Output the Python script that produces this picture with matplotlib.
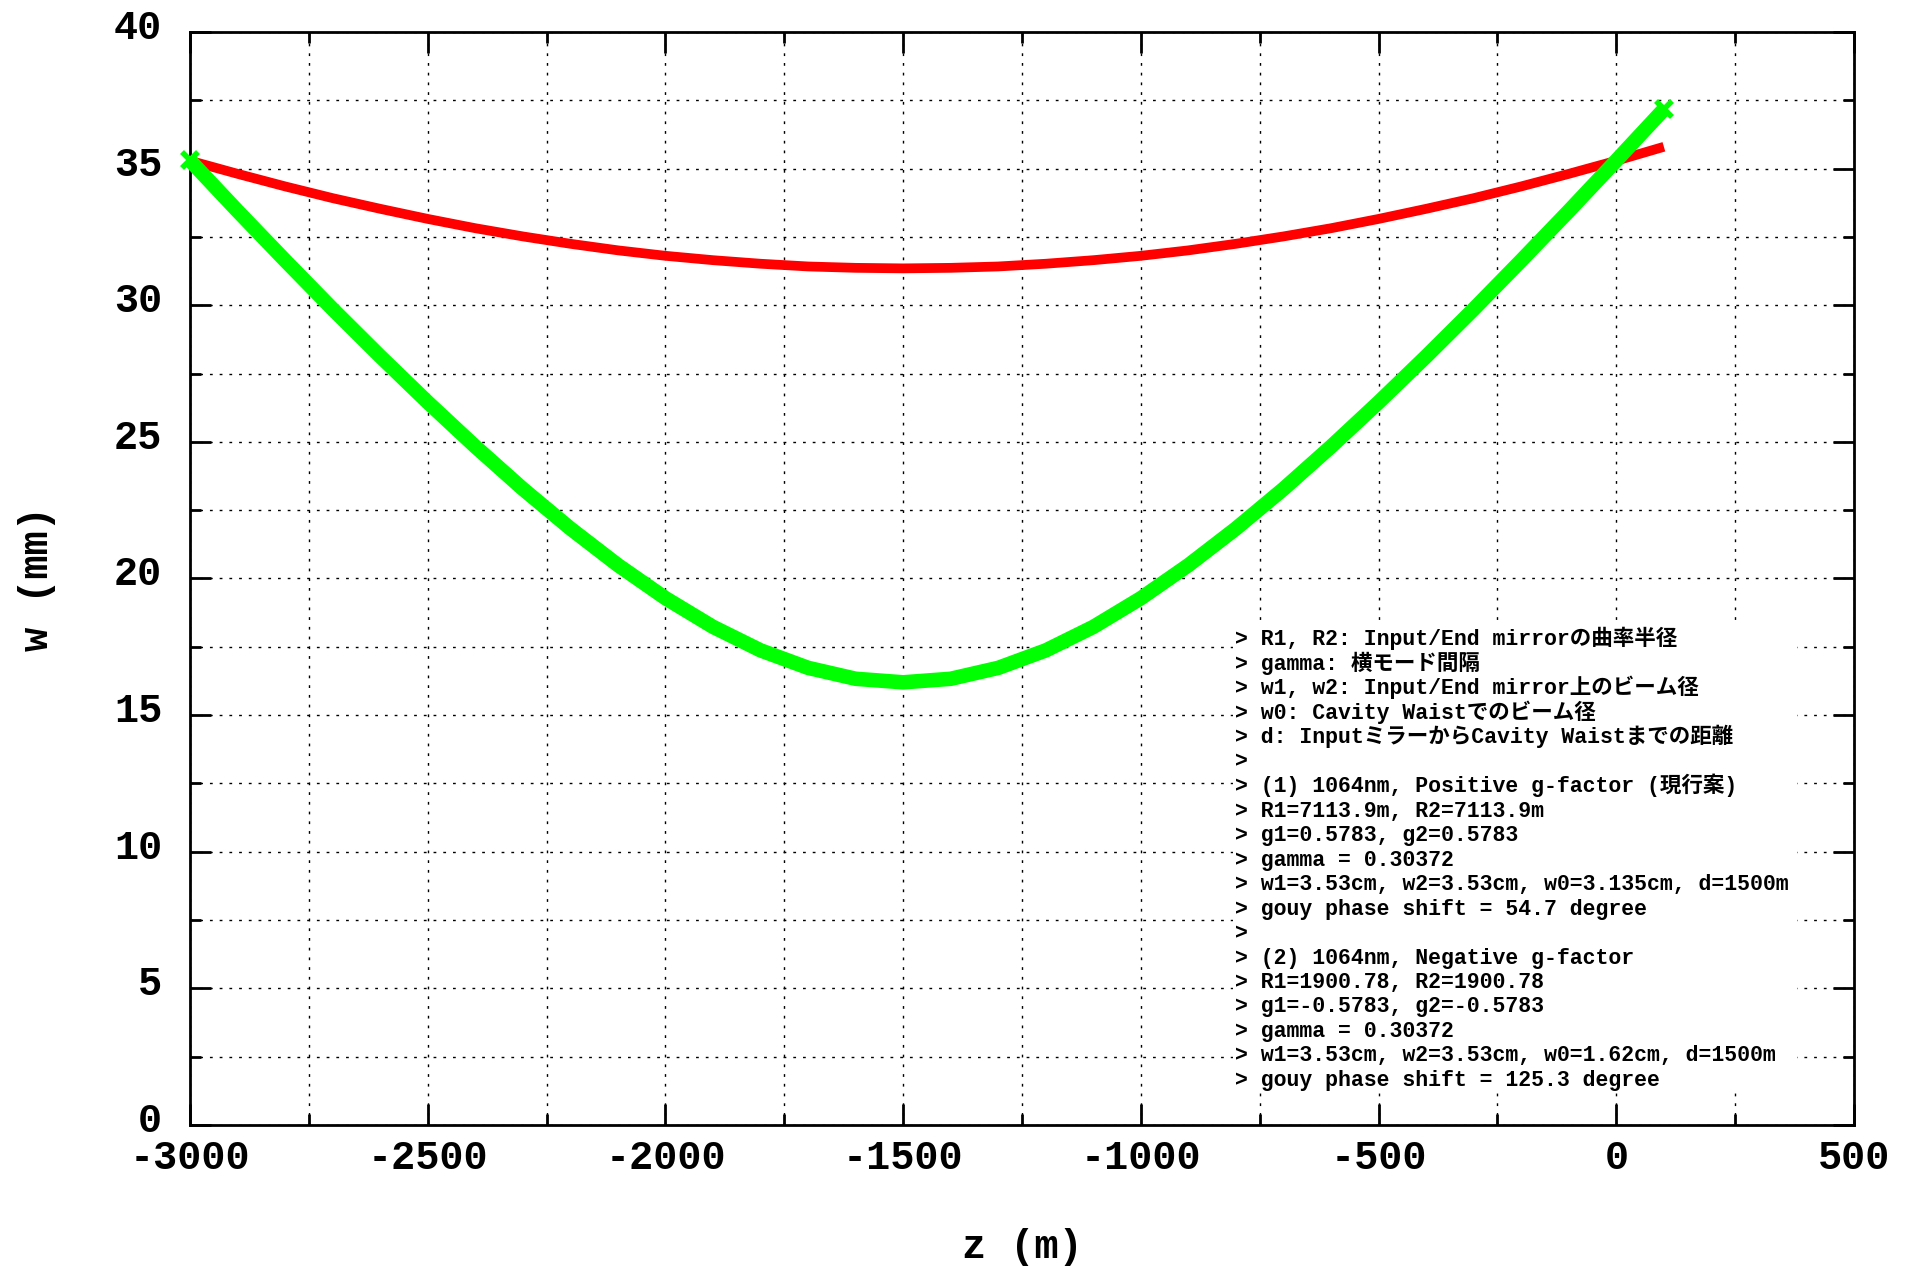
import matplotlib
matplotlib.use("Agg")
import matplotlib.pyplot as plt
import matplotlib.transforms as mtransforms
from matplotlib.patches import Rectangle
from matplotlib.ticker import MultipleLocator

plt.rcParams['font.family'] = ['Liberation Mono', 'Noto Sans CJK JP', 'DejaVu Sans']
plt.rcParams['font.weight'] = 'bold'
plt.rcParams['axes.unicode_minus'] = False

# beam radius w (mm), z every 100 m
z = [-3000, -2900, -2800, -2700, -2600, -2500, -2400, -2300, -2200, -2100,
     -2000, -1900, -1800, -1700, -1600, -1500, -1400, -1300, -1200, -1100,
     -1000, -900, -800, -700, -600, -500, -400, -300, -200, -100, 0, 100]
w_pos = [35.29, 34.81, 34.35, 33.92, 33.53, 33.16, 32.82, 32.52, 32.25, 32.01,
         31.81, 31.65, 31.52, 31.42, 31.37, 31.35, 31.37, 31.42, 31.52, 31.65,
         31.81, 32.01, 32.25, 32.52, 32.82, 33.16, 33.53, 33.92, 34.35, 34.81,
         35.29, 35.80]
w_neg = [35.30, 33.45, 31.64, 29.86, 28.13, 26.45, 24.83, 23.28, 21.83, 20.49,
         19.28, 18.23, 17.37, 16.73, 16.33, 16.20, 16.33, 16.73, 17.37, 18.23,
         19.28, 20.49, 21.83, 23.28, 24.83, 26.45, 28.13, 29.86, 31.64, 33.45,
         35.30, 37.17]

notes = [
    "> R1, R2: Input/End mirrorの曲率半径",
    "> gamma: 横モード間隔",
    "> w1, w2: Input/End mirror上のビーム径",
    "> w0: Cavity Waistでのビーム径",
    "> d: InputミラーからCavity Waistまでの距離",
    ">",
    "> (1) 1064nm, Positive g-factor (現行案)",
    "> R1=7113.9m, R2=7113.9m",
    "> g1=0.5783, g2=0.5783",
    "> gamma = 0.30372",
    "> w1=3.53cm, w2=3.53cm, w0=3.135cm, d=1500m",
    "> gouy phase shift = 54.7 degree",
    ">",
    "> (2) 1064nm, Negative g-factor",
    "> R1=1900.78, R2=1900.78",
    "> g1=-0.5783, g2=-0.5783",
    "> gamma = 0.30372",
    "> w1=3.53cm, w2=3.53cm, w0=1.62cm, d=1500m",
    "> gouy phase shift = 125.3 degree",
]

fig = plt.figure(figsize=(19.12, 12.66), dpi=100)
ax = fig.add_axes([0.0994, 0.1114, 0.8703, 0.8633])
ax.set_axisbelow(True)

ax.plot(z, w_pos, color='#ff0000', lw=7, solid_capstyle='butt', zorder=3)
ax.plot(z, w_neg, color='#00ff00', lw=10.5, solid_capstyle='butt', zorder=4,
        marker='x', markevery=[0, -1], ms=12, mew=4, clip_on=False)

ax.set_xlim(-3000, 500)
ax.set_ylim(0, 40)
ax.xaxis.set_major_locator(MultipleLocator(500))
ax.xaxis.set_minor_locator(MultipleLocator(250))
ax.yaxis.set_major_locator(MultipleLocator(5))
ax.yaxis.set_minor_locator(MultipleLocator(2.5))

ax.grid(True, which='both', color='black', lw=1, linestyle=(0, (2, 5)))
ax.tick_params(which='both', direction='in', top=True, right=True, width=2)
ax.tick_params(which='major', length=15, labelsize=29)
ax.tick_params(which='minor', length=8)
ax.tick_params(axis='x', pad=10)
ax.tick_params(axis='y', pad=20)
for s in ax.spines.values():
    s.set_linewidth(2)

off = mtransforms.ScaledTranslation(0, 8 / 100, fig.dpi_scale_trans)
for lab in ax.get_yticklabels():
    lab.set_transform(lab.get_transform() + off)

ax.set_xlabel("z (m)", fontsize=29, fontweight='bold', labelpad=37)
ax.set_ylabel("w (mm)", fontsize=29, fontweight='bold', labelpad=42)

# white box behind the notes hides the grid there
ax.add_patch(Rectangle((0.627, 0.029), 0.339, 0.430, transform=ax.transAxes,
                       facecolor='white', edgecolor='none', zorder=2))

y0 = 0.439
dy = (0.439 - 0.0357) / 18
for i, line in enumerate(notes):
    ax.text(0.628, y0 - i * dy, line, transform=ax.transAxes, fontsize=15.5,
            fontweight='bold', va='baseline', ha='left', zorder=5)

fig.savefig("out.png", dpi=100)
